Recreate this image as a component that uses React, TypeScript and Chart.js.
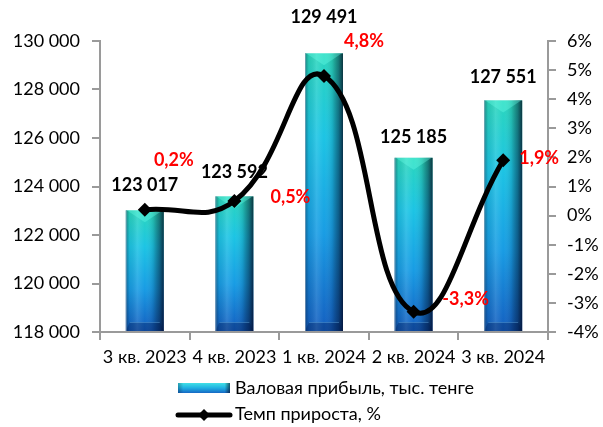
import React, { useEffect, useRef } from "react";
import { Chart, registerables } from "chart.js";

Chart.register(...registerables);

const categories = ["3 кв. 2023", "4 кв. 2023", "1 кв. 2024", "2 кв. 2024", "3 кв. 2024"];
const grossProfit = [123017, 123592, 129491, 125185, 127551];
const growthRate = [0.2, 0.5, 4.8, -3.3, 1.9];
const leftTicks = { min: 118000, max: 130000, step: 2000 };
const rightTicks = { min: -4, max: 6, step: 1 };
const seriesNames = ["Валовая прибыль, тыс. тенге", "Темп прироста, %"];

// label offsets (pixels) relative to their anchor, purely styling
const barLabelDy = [-25, -24, -36, -21, -23];
const pctLabelOffset = [
  [29, -50],
  [56, -4],
  [40, -35],
  [52, -12],
  [36, -2],
];

const FONT = "Lato, 'Open Sans', sans-serif";
const AXIS_COLOR = "#9a9a9a";

const fmtThousands = (n: number) => String(n).replace(/\B(?=(\d{3})+(?!\d))/g, " ");
const fmtPct = (v: number) => v.toFixed(1).replace(".", ",") + "%";

function drawBevelBar(ctx: CanvasRenderingContext2D, x: number, top: number, base: number, w: number) {
  const left = x - w / 2;
  const right = x + w / 2;
  const h = base - top;
  ctx.save();
  const vg = ctx.createLinearGradient(0, top, 0, base);
  vg.addColorStop(0, "#2ad6bc");
  vg.addColorStop(0.3, "#1cc4e4");
  vg.addColorStop(0.65, "#189ce4");
  vg.addColorStop(1, "#135ec0");
  ctx.fillStyle = vg;
  ctx.fillRect(left, top, w, h);

  const hg = ctx.createLinearGradient(left, 0, right, 0);
  hg.addColorStop(0, "rgba(0,30,60,0.4)");
  hg.addColorStop(0.1, "rgba(0,0,0,0.06)");
  hg.addColorStop(0.3, "rgba(255,255,255,0.12)");
  hg.addColorStop(0.5, "rgba(255,255,255,0)");
  hg.addColorStop(0.72, "rgba(0,0,0,0.12)");
  hg.addColorStop(0.88, "rgba(0,10,30,0.45)");
  hg.addColorStop(1, "rgba(0,0,20,0.75)");
  ctx.fillStyle = hg;
  ctx.fillRect(left, top, w, h);

  // top bevel (V)
  const d = Math.min(12, h / 2);
  ctx.beginPath();
  ctx.moveTo(left + 1, top);
  ctx.lineTo(right - 1, top);
  ctx.lineTo(x, top + d);
  ctx.closePath();
  ctx.fillStyle = "rgba(110,255,235,0.35)";
  ctx.fill();

  // bottom bevel
  const b = Math.min(9, h / 3);
  ctx.beginPath();
  ctx.moveTo(left, base);
  ctx.lineTo(right, base);
  ctx.lineTo(right - 4, base - b);
  ctx.lineTo(left + 4, base - b);
  ctx.closePath();
  ctx.fillStyle = "rgba(0,20,70,0.3)";
  ctx.fill();
  ctx.strokeStyle = "rgba(120,200,255,0.35)";
  ctx.lineWidth = 1;
  ctx.beginPath();
  ctx.moveTo(left + 4, base - b + 0.5);
  ctx.lineTo(right - 4, base - b + 0.5);
  ctx.stroke();

  ctx.strokeStyle = "rgba(150,170,190,0.6)";
  ctx.lineWidth = 1;
  ctx.beginPath();
  ctx.moveTo(left + 0.5, base);
  ctx.lineTo(left + 0.5, top);
  ctx.stroke();
  ctx.restore();
}

const customPlugin = {
  id: "customDraw",
  afterDatasetDraw(chart: any, args: any) {
    if (args.index !== 0) return;
    const ctx = chart.ctx;
    const meta = chart.getDatasetMeta(0);
    const bottom = chart.chartArea.bottom;
    meta.data.forEach((el: any) => {
      const base = Math.min(el.base, bottom) - 1;
      drawBevelBar(ctx, el.x, el.y, base, el.width);
    });
  },
  afterDatasetsDraw(chart: any) {
    const ctx = chart.ctx;
    ctx.save();
    ctx.font = `bold 18px ${FONT}`;
    ctx.textAlign = "center";
    ctx.textBaseline = "middle";
    const barMeta = chart.getDatasetMeta(0);
    barMeta.data.forEach((el: any, i: number) => {
      ctx.fillStyle = "#000";
      ctx.fillText(fmtThousands(grossProfit[i]), el.x, el.y + barLabelDy[i]);
    });
    const lineMeta = chart.getDatasetMeta(1);
    lineMeta.data.forEach((el: any, i: number) => {
      ctx.fillStyle = "#ff0000";
      ctx.fillText(fmtPct(growthRate[i]), el.x + pctLabelOffset[i][0], el.y + pctLabelOffset[i][1]);
    });
    ctx.restore();
  },
  afterDraw(chart: any) {
    const ctx = chart.ctx;
    ctx.save();
    // legend item 1: bar swatch
    const bx = 178, by = 383, bw = 52, bh = 10;
    const g = ctx.createLinearGradient(0, by, 0, by + bh);
    g.addColorStop(0, "#40e0e6");
    g.addColorStop(0.5, "#1fb0e2");
    g.addColorStop(1, "#1668c4");
    ctx.fillStyle = g;
    ctx.fillRect(bx, by, bw, bh);
    const hg = ctx.createLinearGradient(bx, 0, bx + bw, 0);
    hg.addColorStop(0, "rgba(0,30,60,0.3)");
    hg.addColorStop(0.1, "rgba(0,0,0,0)");
    hg.addColorStop(0.9, "rgba(0,0,0,0)");
    hg.addColorStop(1, "rgba(0,0,20,0.6)");
    ctx.fillStyle = hg;
    ctx.fillRect(bx, by, bw, bh);

    // legend item 2: line swatch
    const ly = 415;
    ctx.strokeStyle = "#000";
    ctx.lineWidth = 5;
    ctx.lineCap = "round";
    ctx.beginPath();
    ctx.moveTo(178, ly);
    ctx.lineTo(230, ly);
    ctx.stroke();
    ctx.fillStyle = "#000";
    ctx.beginPath();
    ctx.moveTo(204, ly - 6);
    ctx.lineTo(210, ly);
    ctx.lineTo(204, ly + 6);
    ctx.lineTo(198, ly);
    ctx.closePath();
    ctx.fill();

    ctx.font = `18px ${FONT}`;
    ctx.textAlign = "left";
    ctx.textBaseline = "middle";
    ctx.fillStyle = "#000";
    ctx.fillText(seriesNames[0], 235, 388);
    ctx.fillText(seriesNames[1], 235, 414);
    ctx.restore();
  },
};

export default function App() {
  const canvasRef = useRef<HTMLCanvasElement | null>(null);

  useEffect(() => {
    if (!canvasRef.current) return;
    const chart = new Chart(canvasRef.current, {
      type: "bar",
      data: {
        labels: categories,
        datasets: [
          {
            type: "bar",
            label: seriesNames[0],
            data: grossProfit,
            yAxisID: "y",
            backgroundColor: "rgba(0,0,0,0)",
            borderWidth: 0,
            barPercentage: 0.424,
            categoryPercentage: 1,
            order: 2,
          },
          {
            type: "line",
            label: seriesNames[1],
            data: growthRate,
            yAxisID: "y1",
            borderColor: "#000",
            borderWidth: 5,
            tension: 0.45,
            pointStyle: "rectRot",
            pointRadius: 7,
            pointBackgroundColor: "#000",
            pointBorderColor: "#000",
            pointBorderWidth: 0,
            fill: false,
            order: 1,
          } as any,
        ],
      },
      options: {
        responsive: true,
        maintainAspectRatio: false,
        animation: false,
        layout: { padding: { top: 41, left: 0, right: 0, bottom: 0 } },
        plugins: {
          legend: { display: false },
          title: { display: false },
          tooltip: { enabled: false },
        },
        scales: {
          x: {
            offset: true,
            grid: {
              display: true,
              offset: true,
              drawOnChartArea: false,
              drawTicks: true,
              tickLength: 8,
              color: AXIS_COLOR,
              lineWidth: 2,
            },
            border: { color: AXIS_COLOR, width: 2 },
            ticks: {
              color: "#000",
              font: { family: FONT, size: 18 },
              maxRotation: 0,
              minRotation: 0,
              autoSkip: false,
              padding: 6,
            },
            afterFit: (scale: any) => {
              scale.height = 95;
            },
          },
          y: {
            position: "left",
            min: leftTicks.min,
            max: leftTicks.max,
            grid: {
              drawOnChartArea: false,
              drawTicks: true,
              tickLength: 8,
              color: AXIS_COLOR,
              lineWidth: 2,
            },
            border: { color: AXIS_COLOR, width: 2 },
            ticks: {
              stepSize: leftTicks.step,
              color: "#000",
              font: { family: FONT, size: 18 },
              padding: 12,
              callback: (v: any) => fmtThousands(Number(v)),
            },
            afterFit: (scale: any) => {
              scale.width = 100;
            },
          },
          y1: {
            position: "right",
            min: rightTicks.min,
            max: rightTicks.max,
            grid: {
              drawOnChartArea: false,
              drawTicks: true,
              tickLength: 8,
              color: AXIS_COLOR,
              lineWidth: 2,
            },
            border: { color: AXIS_COLOR, width: 2 },
            ticks: {
              stepSize: rightTicks.step,
              color: "#000",
              font: { family: FONT, size: 18 },
              padding: 11,
              callback: (v: any) => `${v}%`,
            },
            afterFit: (scale: any) => {
              scale.width = 55;
            },
          },
        },
      },
      plugins: [customPlugin],
    });
    return () => chart.destroy();
  }, []);

  return (
    <div style={{ position: "absolute", left: 0, top: 0, width: 603, height: 427, background: "#fff" }}>
      <canvas ref={canvasRef} />
    </div>
  );
}
